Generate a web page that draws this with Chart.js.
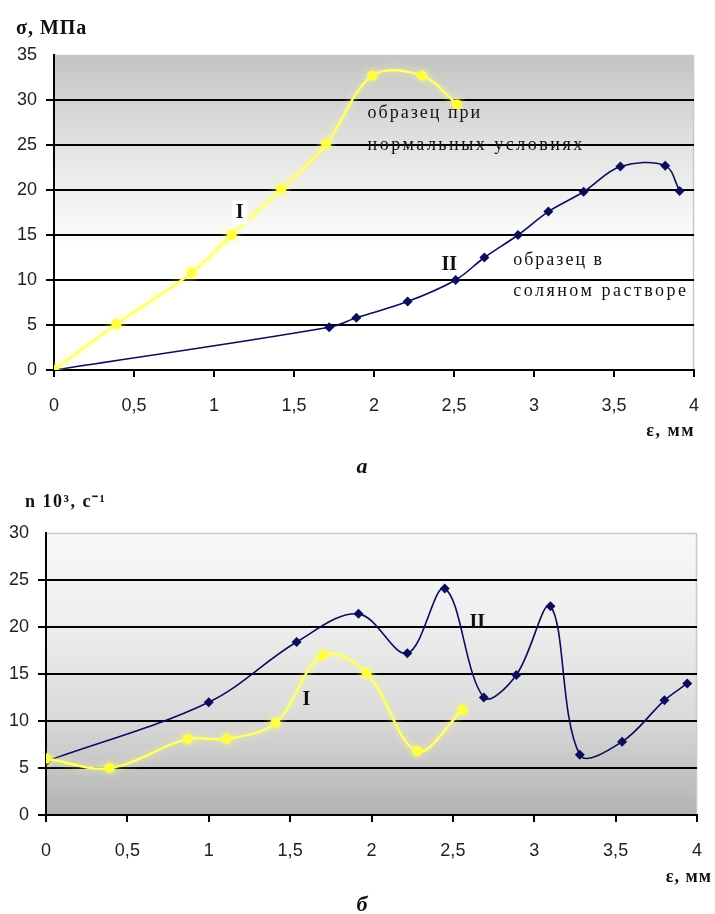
<!DOCTYPE html>
<html>
<head>
<meta charset="utf-8">
<script src="https://cdn.jsdelivr.net/npm/chart.js@4/dist/chart.umd.min.js"></script>
<style>
  body { margin: 0; background: #fff; width: 715px; height: 914px; overflow: hidden; }
  .box { position: absolute; left: 0; width: 715px; }
</style>
</head>
<body>
<div class="box" style="top:0;height:480px"><canvas id="chartA" width="715" height="480"></canvas></div>
<div class="box" style="top:480px;height:434px"><canvas id="chartB" width="715" height="434"></canvas></div>
<script>
// (а) stress vs strain
var stressStrainI  = [0, 0.39, 0.86, 1.11, 1.42, 1.70, 1.99, 2.30, 2.52];
var stressI        = [0, 5.1, 10.8, 15.0, 20.1, 25.1, 32.7, 32.7, 29.5];
var stressStrainII = [0, 1.72, 1.89, 2.21, 2.51, 2.69, 2.90, 3.09, 3.31, 3.54, 3.82, 3.91];
var stressII       = [0, 4.75, 5.8, 7.6, 10.0, 12.5, 15.0, 17.6, 19.8, 22.6, 22.7, 19.9];

// (б) n·10^3 vs strain
var rateStrainI  = [0, 0.39, 0.87, 1.11, 1.41, 1.70, 1.97, 2.28, 2.56];
var rateI        = [6.0, 5.0, 8.1, 8.1, 9.8, 17.0, 15.1, 6.8, 11.2];
var rateStrainII = [0, 1.00, 1.54, 1.92, 2.22, 2.45, 2.69, 2.89, 3.10, 3.28, 3.54, 3.80, 3.94];
var rateII       = [5.7, 12.0, 18.4, 21.4, 17.2, 24.1, 12.5, 14.9, 22.2, 6.4, 7.8, 12.2, 14.0];

var xTicks = { min: 0, max: 4, step: 0.5 };
var stressTicks = { min: 0, max: 35, step: 5 };
var rateTicks = { min: 0, max: 30, step: 5 };

function pts(xs, ys) {
  return xs.map(function (x, i) { return { x: x, y: ys[i] }; });
}
function comma(v) { return String(v).replace('.', ','); }

var YELLOW = '#ffff6a';
var NAVY = '#0c0c5c';

function seriesI(data) {
  return {
    label: 'I', data: data, borderColor: YELLOW, backgroundColor: '#ffff40',
    borderWidth: 2.5, pointRadius: 5, pointBorderWidth: 0, pointStyle: 'circle',
    tension: 0.35, glow: true
  };
}
function seriesII(data) {
  return {
    label: 'II', data: data, borderColor: NAVY, backgroundColor: NAVY,
    borderWidth: 1.6, pointRadius: 5, pointBorderWidth: 0, pointStyle: 'rectRot',
    tension: 0.35
  };
}

var paper = {
  id: 'paper',
  beforeDraw: function (chart, args, o) {
    var a = chart.chartArea, ctx = chart.ctx;
    var g = ctx.createLinearGradient(0, a.top, 0, a.bottom);
    o.stops.forEach(function (s) { g.addColorStop(s[0], s[1]); });
    ctx.save();
    ctx.fillStyle = g;
    ctx.fillRect(a.left, a.top, a.right - a.left, a.bottom - a.top);
    ctx.strokeStyle = '#c8c8c8';
    ctx.lineWidth = 1.5;
    ctx.beginPath();
    ctx.moveTo(a.left, a.top + 0.5);
    ctx.lineTo(a.right - 0.5, a.top + 0.5);
    ctx.lineTo(a.right - 0.5, a.bottom);
    ctx.stroke();
    ctx.restore();
  },
  beforeDatasetDraw: function (chart, args) {
    if (args.meta._dataset.glow) {
      chart.ctx.save();
      chart.ctx.shadowColor = 'rgba(255,255,120,0.8)';
      chart.ctx.shadowBlur = 7;
    }
  },
  afterDatasetDraw: function (chart, args) {
    if (args.meta._dataset.glow) chart.ctx.restore();
  },
  afterDatasetsDraw: function (chart, args, o) {
    var ctx = chart.ctx, sx = chart.scales.x, sy = chart.scales.y;
    ctx.save();
    ctx.textBaseline = 'middle';
    (o.notes || []).forEach(function (n) {
      var px = sx.getPixelForValue(n.x), py = sy.getPixelForValue(n.y);
      ctx.font = n.font;
      ctx.letterSpacing = n.spacing || '0px';
      ctx.textAlign = n.align || 'left';
      if (n.bg) {
        var w = ctx.measureText(n.text).width + 8;
        ctx.fillStyle = n.bg;
        ctx.fillRect(px - w / 2, py - 12, w, 24);
      }
      ctx.fillStyle = '#111';
      ctx.fillText(n.text, px, py);
    });
    ctx.textBaseline = 'alphabetic';
    (o.titles || []).forEach(function (t) {
      ctx.font = t.font;
      ctx.letterSpacing = t.spacing || '0px';
      ctx.textAlign = t.align || 'left';
      ctx.fillStyle = '#111';
      ctx.fillText(t.text, t.px, t.py);
    });
    ctx.restore();
  }
};

function axisX(h) {
  return {
    type: 'linear', min: xTicks.min, max: xTicks.max,
    afterFit: function (s) { s.height = h; s.paddingLeft = 0; s.paddingRight = 0; },
    ticks: { stepSize: xTicks.step, callback: comma, color: '#222', padding: 18,
             font: { family: 'Liberation Sans', size: 18 } },
    grid: { drawOnChartArea: false, drawTicks: true, tickLength: 7, color: '#000', lineWidth: 2 },
    border: { color: '#000', width: 2 }
  };
}
function axisY(t, w) {
  return {
    type: 'linear', min: t.min, max: t.max,
    afterFit: function (s) { s.width = w; s.paddingTop = 0; s.paddingBottom = 0; },
    ticks: { stepSize: t.step, color: '#222', padding: 9,
             font: { family: 'Liberation Sans', size: 18 } },
    grid: {
      drawTicks: true, tickLength: 8, lineWidth: 2,
      color: function (c) { return c.tick && c.tick.value === t.max ? 'rgba(0,0,0,0)' : '#000'; }
    },
    border: { color: '#000', width: 2 }
  };
}

var axisTitleFont = 'bold 18px "Liberation Serif"';
var noteFont = '18px "Liberation Serif"';
var labelFont = 'bold 20px "Liberation Serif"';

new Chart(document.getElementById('chartA'), {
  type: 'line',
  data: { datasets: [seriesI(pts(stressStrainI, stressI)), seriesII(pts(stressStrainII, stressII))] },
  options: {
    responsive: false, animation: false,
    layout: { padding: { top: 55, right: 21, left: 0, bottom: 0 } },
    scales: { x: axisX(110), y: axisY(stressTicks, 54) },
    plugins: {
      legend: { display: false }, tooltip: { enabled: false },
      paper: {
        stops: [[0, '#c4c4c4'], [0.35, '#e8e8e8'], [0.62, '#ffffff'], [1, '#ffffff']],
        notes: [
          { text: 'I', x: 1.16, y: 17.5, font: labelFont, align: 'center', bg: '#ffffff' },
          { text: 'II', x: 2.47, y: 11.7, font: labelFont, align: 'center' },
          { text: 'образец при', x: 1.96, y: 28.5, font: noteFont, spacing: '2px' },
          { text: 'нормальных условиях', x: 1.96, y: 25, font: noteFont, spacing: '2.5px' },
          { text: 'образец в', x: 2.87, y: 12.2, font: noteFont, spacing: '2px' },
          { text: 'соляном растворе', x: 2.87, y: 8.75, font: noteFont, spacing: '2.5px' }
        ],
        titles: [
          { text: 'σ, МПа', px: 16, py: 34, font: 'bold 20px "Liberation Serif"', spacing: '1px' },
          { text: 'ε, мм', px: 695, py: 436, font: axisTitleFont, align: 'right', spacing: '1.5px' },
          { text: 'а', px: 362, py: 473, font: 'bold italic 22px "Liberation Serif"', align: 'center' }
        ]
      }
    }
  },
  plugins: [paper]
});

new Chart(document.getElementById('chartB'), {
  type: 'line',
  data: { datasets: [seriesI(pts(rateStrainI, rateI)), seriesII(pts(rateStrainII, rateII))] },
  options: {
    responsive: false, animation: false,
    layout: { padding: { top: 53, right: 18, left: 0, bottom: 0 } },
    scales: { x: axisX(99), y: axisY(rateTicks, 46) },
    plugins: {
      legend: { display: false }, tooltip: { enabled: false },
      paper: {
        stops: [[0, '#f8f8f8'], [0.3, '#efefef'], [0.65, '#dadada'], [1, '#b2b2b2']],
        notes: [
          { text: 'I', x: 1.60, y: 12.2, font: labelFont, align: 'center' },
          { text: 'II', x: 2.65, y: 20.4, font: labelFont, align: 'center' }
        ],
        titles: [
          { text: 'n 10³, с⁻¹', px: 25, py: 27, font: 'bold 18px "Liberation Serif"', spacing: '1.5px' },
          { text: 'ε, мм', px: 712, py: 402, font: axisTitleFont, align: 'right', spacing: '1px' },
          { text: 'б', px: 362, py: 431, font: 'bold italic 22px "Liberation Serif"', align: 'center' }
        ]
      }
    }
  },
  plugins: [paper]
});
</script>
</body>
</html>
